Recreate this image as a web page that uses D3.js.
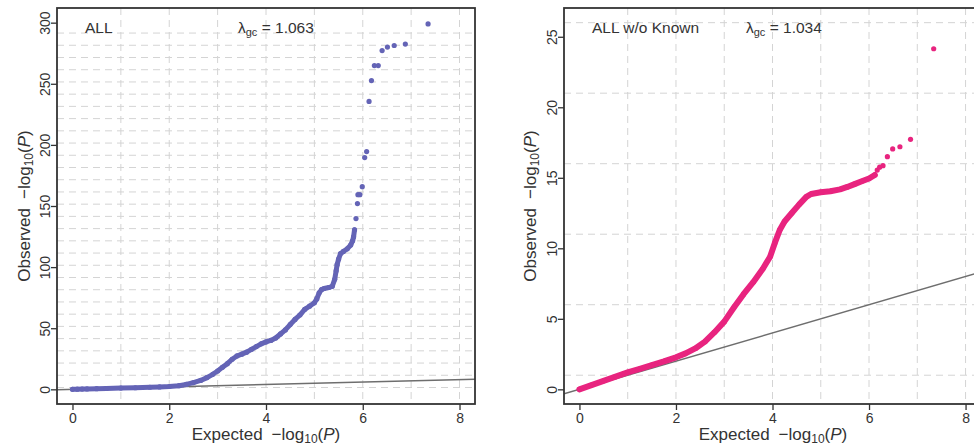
<!DOCTYPE html>
<html>
<head>
<meta charset="utf-8">
<script src="https://cdn.jsdelivr.net/npm/d3@7"></script>
<style>
  html, body { margin: 0; padding: 0; background: #fff; }
  svg { display: block; font-family: "Liberation Sans", Arial, Helvetica, sans-serif; }
</style>
</head>
<body>
<svg id="chart" width="974" height="448"></svg>
<script>
// ---- Panel A: all variants ----
const allLabel = "ALL";
const allLambda = "1.063";
// dense run of overlapping points [expected, observed]
const allBand = [
  [0,0],[0.1,0.1],[0.2,0.2],[0.3,0.3],[0.5,0.5],[0.7,0.7],[1.0,1.0],[1.3,1.3],
  [1.6,1.7],[1.8,2.0],[2.0,2.3],[2.2,3.0],[2.35,4.0],[2.5,5.5],[2.65,7.3],
  [2.78,9.6],[2.9,12.3],[3.0,15.0],[3.1,18.0],[3.2,21.0],[3.3,24.6],[3.4,27.3],
  [3.5,28.8],[3.6,30.4],[3.7,32.7],[3.8,35.0],[3.9,37.2],[4.0,38.8],[4.1,40.0],
  [4.2,42.0],[4.3,45.3],[4.4,48.6],[4.5,53.0],[4.6,57.2],[4.7,60.8],[4.8,65.4],
  [4.9,68.0],[5.0,70.8],[5.05,74.0],[5.1,79.0],[5.15,81.6],[5.2,82.5],[5.3,83.3],
  [5.37,84.3],[5.42,90.0],[5.45,97.0],[5.47,102.0],[5.5,106.5],[5.54,111.0],
  [5.6,112.8],[5.68,115.0],[5.75,118.0],[5.79,121.5],[5.81,124.7],[5.83,130.5]
];
// isolated top hits [expected, observed]
const allTail = [
  [5.86,139.7],[5.89,152.0],[5.90,159.3],[5.94,159.3],[5.99,165.8],[6.04,189.6],
  [6.08,194.5],[6.13,235.6],[6.18,252.6],[6.24,264.9],[6.32,264.9],[6.40,277.2],
  [6.51,280.0],[6.65,281.3],[6.88,282.5],[7.35,299.0]
];
const allYTicks = [0, 50, 100, 150, 200, 250, 300];

// ---- Panel B: all variants without known loci ----
const novelLabel = "ALL w/o Known";
const novelLambda = "1.034";
const novelBand = [
  [0,0],[0.25,0.3],[0.5,0.6],[0.75,0.9],[1.0,1.2],[1.25,1.45],[1.5,1.72],
  [1.75,1.98],[2.0,2.27],[2.2,2.55],[2.4,2.9],[2.6,3.38],[2.8,4.05],[3.0,4.8],
  [3.2,5.8],[3.4,6.75],[3.6,7.6],[3.8,8.55],[3.95,9.4],[4.05,10.4],[4.15,11.3],
  [4.25,11.9],[4.4,12.5],[4.55,13.1],[4.7,13.65],[4.8,13.85],[5.0,13.98],
  [5.2,14.05],[5.4,14.18],[5.55,14.35],[5.7,14.55],[5.85,14.75],[6.0,14.95],[6.12,15.2]
];
const novelTail = [
  [6.17,15.55],[6.22,15.75],[6.29,15.86],[6.38,16.5],[6.49,17.05],[6.64,17.2],
  [6.86,17.73],[7.34,24.15]
];
const novelYTicks = [0, 5, 10, 15, 20, 25];

const xTicks = [0, 2, 4, 6, 8];

const svg = d3.select("#chart");
const ink = "#333";

// "<prefix> −log10(P)" with subscript and italic P
function logTitle(sel, prefix) {
  sel.append("tspan").text(prefix);
  sel.append("tspan").attr("dx", 9).text("\u2212log");
  sel.append("tspan").attr("font-size", 12).attr("dy", 3).text("10");
  sel.append("tspan").attr("dy", -3).text("(");
  sel.append("tspan").attr("font-style", "italic").text("P");
  sel.append("tspan").text(")");
}

function panel(opt) {
  const x = d3.scaleLinear().domain([-0.32, 8.32]).range([opt.left, opt.right]);
  const y = d3.scaleLinear().domain(opt.yDomain).range([404, 8]);
  const g = svg.append("g");
  const clipId = "clip-" + opt.id;
  svg.append("clipPath").attr("id", clipId)
    .append("rect").attr("x", opt.left).attr("y", 8)
    .attr("width", opt.right - opt.left).attr("height", 396);

  const plot = g.append("g").attr("clip-path", `url(#${clipId})`);

  // dashed reference grid
  plot.selectAll(".gh").data(opt.gridY).join("line")
    .attr("x1", opt.left).attr("x2", opt.right)
    .attr("y1", d => y(d)).attr("y2", d => y(d))
    .attr("stroke", "#d4d4d4").attr("stroke-width", 1).attr("stroke-dasharray", "7,5");
  plot.selectAll(".gv").data(d3.range(1, 9)).join("line")
    .attr("x1", d => x(d)).attr("x2", d => x(d))
    .attr("y1", 8).attr("y2", 404)
    .attr("stroke", "#d4d4d4").attr("stroke-width", 1).attr("stroke-dasharray", "7,5");

  // null expectation y = x
  plot.append("line")
    .attr("x1", x(-0.32)).attr("y1", y(-0.32))
    .attr("x2", x(8.32)).attr("y2", y(8.32))
    .attr("stroke", "#6e6e6e").attr("stroke-width", 1.5);

  // overlapping points along the dense run
  plot.append("path")
    .datum(opt.band)
    .attr("d", d3.line().x(d => x(d[0])).y(d => y(d[1])))
    .attr("fill", "none").attr("stroke", opt.color)
    .attr("stroke-width", opt.bandWidth).attr("stroke-linecap", "round").attr("stroke-linejoin", "round");
  plot.selectAll(".pt").data(opt.band.concat(opt.tail)).join("circle")
    .attr("cx", d => x(d[0])).attr("cy", d => y(d[1]))
    .attr("r", 2.6).attr("fill", opt.color);

  // frame
  g.append("rect")
    .attr("x", opt.left).attr("y", 8)
    .attr("width", opt.right - opt.left).attr("height", 396)
    .attr("fill", "none").attr("stroke", ink).attr("stroke-width", 1.8);

  // axes
  const xa = g.append("g").attr("transform", "translate(0,404)")
    .call(d3.axisBottom(x).tickValues(xTicks).tickSize(6).tickPadding(3).tickFormat(d3.format("d")));
  xa.select(".domain").remove();
  xa.selectAll("line").attr("stroke", ink).attr("stroke-width", 1.3);
  xa.selectAll("text").attr("font-size", 14).attr("fill", ink)
    .attr("font-family", "Liberation Sans, Arial, sans-serif");

  const ya = g.append("g").attr("transform", `translate(${opt.left},0)`)
    .call(d3.axisLeft(y).tickValues(opt.yTicks).tickSize(6).tickFormat(d3.format("d")));
  ya.select(".domain").remove();
  ya.selectAll("line").attr("stroke", ink).attr("stroke-width", 1.3);
  ya.selectAll("text")
    .attr("font-size", 14).attr("fill", ink)
    .attr("font-family", "Liberation Sans, Arial, sans-serif")
    .attr("text-anchor", "middle")
    .attr("x", null).attr("dy", null)
    .attr("transform", "translate(-7,0) rotate(-90)");

  // axis titles
  const xt = g.append("text")
    .attr("x", opt.xTitleX || (opt.left + opt.right) / 2).attr("y", 440)
    .attr("text-anchor", "middle").attr("font-size", 17).attr("fill", ink);
  logTitle(xt, "Expected");

  const yt = g.append("text")
    .attr("transform", `translate(${opt.yTitleX},206) rotate(-90)`)
    .attr("text-anchor", "middle").attr("font-size", 17).attr("fill", ink);
  logTitle(yt, "Observed");

  // panel labels
  g.append("text").attr("x", opt.labelX).attr("y", 33)
    .attr("font-size", 15.5).attr("fill", ink).text(opt.label);
  const lam = g.append("text").attr("x", opt.lambdaX).attr("y", 33)
    .attr("font-size", 15.5).attr("fill", ink);
  lam.append("tspan").text("\u03bb");
  lam.append("tspan").attr("font-size", 11).attr("dy", 3).text("gc");
  lam.append("tspan").attr("dy", -3).text(" = " + opt.lambda);
}

panel({
  id: "all", left: 57, right: 475, yDomain: [-12, 312],
  gridY: d3.range(1.5, 300, 10), yTicks: allYTicks,
  band: allBand, tail: allTail, color: "#6464b6", bandWidth: 5,
  yTitleX: 30, label: allLabel, labelX: 85, lambda: allLambda, lambdaX: 238
});
panel({
  id: "novel", left: 564, right: 981, yDomain: [-1.04, 27.04],
  gridY: d3.range(1, 27, 5), yTicks: novelYTicks,
  band: novelBand, tail: novelTail, color: "#e8247f", bandWidth: 6,
  yTitleX: 536, xTitleX: 773, label: novelLabel, labelX: 592, lambda: novelLambda, lambdaX: 746
});
</script>
</body>
</html>
